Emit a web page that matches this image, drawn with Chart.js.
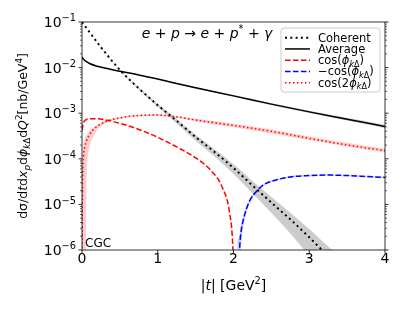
<!DOCTYPE html>
<html>
<head>
<meta charset="utf-8">
<script src="https://cdn.jsdelivr.net/npm/chart.js@4"></script>
<style>
  html, body { margin: 0; padding: 0; background: #fff; }
  canvas { display: block; }
</style>
</head>
<body>
<canvas id="chart" width="415" height="311"></canvas>
<script>
// ===== DATA =====
const tAvg = [0, 0.02, 0.05, 0.1, 0.2, 0.3, 0.5, 0.75, 1.0, 1.5, 2.0, 2.5, 3.0, 3.5, 4.0];
const avg = [1.7e-2, 1.52e-2, 1.38e-2, 1.23e-2, 1.07e-2, 9.8e-3, 8.3e-3, 6.9e-3, 5.6e-3, 3.6e-3, 2.4e-3, 1.58e-3, 1.07e-3, 7.4e-4, 5.1e-4];
const avgLo = [1.7e-2, 1.52e-2, 1.38e-2, 1.22e-2, 1.06e-2, 9.7e-3, 8.2e-3, 6.8e-3, 5.5e-3, 3.5e-3, 2.3e-3, 1.5e-3, 1.01e-3, 6.9e-4, 4.7e-4];
const avgHi = [1.7e-2, 1.52e-2, 1.38e-2, 1.24e-2, 1.08e-2, 9.9e-3, 8.4e-3, 7.0e-3, 5.7e-3, 3.7e-3, 2.5e-3, 1.66e-3, 1.13e-3, 7.9e-4, 5.5e-4];

const tCoh = [0, 0.25, 0.5, 0.75, 1.0, 1.25, 1.5, 1.75, 2.0, 2.25, 2.5, 2.75, 3.0, 3.25, 3.5];
const coh = [1.0e-1, 2.8e-2, 8.9e-3, 3.5e-3, 1.5e-3, 6.8e-4, 3.0e-4, 1.41e-4, 6.3e-5, 2.6e-5, 1.1e-5, 4.7e-6, 1.9e-6, 7.4e-7, 3.2e-7];
const cohHi = [1.0e-1, 2.83e-2, 9.1e-3, 3.66e-3, 1.61e-3, 7.45e-4, 3.37e-4, 1.62e-4, 7.6e-5, 3.27e-5, 1.45e-5, 6.6e-6, 2.88e-6, 1.2e-6, 5.56e-7];
const cohLo = [1.0e-1, 2.77e-2, 8.6e-3, 3.27e-3, 1.37e-3, 5.92e-4, 2.5e-4, 1.12e-4, 4.67e-5, 1.76e-5, 6.5e-6, 2.3e-6, 7.2e-7, 2.2e-7, 7.7e-8];

const tCos1 = [0.003, 0.01, 0.02, 0.035, 0.07, 0.12, 0.2, 0.3, 0.5, 0.75, 1.0, 1.25, 1.5, 1.7, 1.85, 1.95, 1.99, 2.02];
const cos1 = [4.2e-4, 5.2e-4, 6.2e-4, 6.8e-4, 7.4e-4, 7.6e-4, 7.6e-4, 7.2e-4, 6.0e-4, 4.4e-4, 2.95e-4, 1.82e-4, 1.05e-4, 5.6e-5, 2.4e-5, 6.3e-6, 1.26e-6, 3e-8];

const tNeg = [2.05, 2.08, 2.1, 2.13, 2.17, 2.22, 2.3, 2.4, 2.5, 2.75, 3.0, 3.25, 3.5, 3.75, 4.0];
const negCos1 = [3e-8, 1.0e-6, 2.5e-6, 4.6e-6, 7.9e-6, 1.26e-5, 1.9e-5, 2.7e-5, 3.2e-5, 4.0e-5, 4.3e-5, 4.4e-5, 4.3e-5, 4.1e-5, 3.9e-5];
const negHi = [1.5e-6, 2.2e-6, 3.6e-6, 5.8e-6, 9.3e-6, 1.4e-5, 2.05e-5, 2.85e-5, 3.35e-5, 4.15e-5, 4.45e-5, 4.55e-5, 4.45e-5, 4.25e-5, 4.05e-5];
const negLo = [1e-9, 3e-7, 1.2e-6, 3.4e-6, 6.6e-6, 1.12e-5, 1.75e-5, 2.55e-5, 3.05e-5, 3.85e-5, 4.15e-5, 4.25e-5, 4.15e-5, 3.95e-5, 3.75e-5];

const tCos2 = [0.001, 0.003, 0.006, 0.01, 0.02, 0.04, 0.06, 0.1, 0.17, 0.25, 0.35, 0.5, 0.75, 1.0, 1.25, 1.5, 2.0, 2.5, 3.0, 3.5, 4.0];
const cos2 = [1e-7, 4.0e-6, 1.8e-5, 5.0e-5, 1.12e-4, 1.9e-4, 2.5e-4, 3.4e-4, 4.7e-4, 5.8e-4, 6.9e-4, 7.9e-4, 8.9e-4, 9.1e-4, 8.3e-4, 7.1e-4, 5.4e-4, 4.0e-4, 2.8e-4, 2.0e-4, 1.51e-4];
const cos2Hi = [1e-5, 3.2e-5, 7.1e-5, 1.26e-4, 2.0e-4, 2.8e-4, 3.3e-4, 4.2e-4, 5.2e-4, 6.2e-4, 7.2e-4, 8.3e-4, 9.3e-4, 9.5e-4, 8.7e-4, 7.6e-4, 5.9e-4, 4.4e-4, 3.1e-4, 2.24e-4, 1.66e-4];
const cos2Lo = [1e-9, 1e-9, 1e-9, 1e-9, 1e-9, 1e-8, 2.5e-5, 1.78e-4, 3.5e-4, 5.1e-4, 6.5e-4, 7.6e-4, 8.5e-4, 8.7e-4, 7.9e-4, 6.6e-4, 4.9e-4, 3.6e-4, 2.6e-4, 1.86e-4, 1.38e-4];

const xTicks = [0, 1, 2, 3, 4];
const yExponents = [-1, -2, -3, -4, -5, -6];

// ===== HELPERS =====
const FONT = '"DejaVu Sans"';
const pts = (xs, ys) => xs.map((x, i) => ({ x: x, y: ys[i] }));

function line(data, color, width, dash) {
    return {
        data: data, borderColor: color, borderWidth: width, borderDash: dash,
        fill: false, pointRadius: 0, cubicInterpolationMode: "monotone"
    };
}
function bandEdge(data, fillColor, isUpper) {
    return {
        data: data, borderWidth: 0, borderColor: "rgba(0,0,0,0)", pointRadius: 0,
        backgroundColor: fillColor, fill: isUpper ? "-1" : false,
        cubicInterpolationMode: "monotone"
    };
}

// parts: [text, kind]; kind: "" normal, "i" italic, "b" subscript, "bi" italic subscript, "p" superscript
function drawRich(ctx, parts, x, y, size, align) {
    const pieces = parts.map(([s, k]) => {
        const small = k.includes("b") || k.includes("p");
        const fs = small ? size * 0.7 : size;
        const font = (k.includes("i") ? "italic " : "") + fs + "px " + FONT;
        ctx.font = font;
        const dy = k.includes("b") ? size * 0.22 : (k.includes("p") ? -size * 0.42 : 0);
        return { s: s, font: font, w: ctx.measureText(s).width, dy: dy };
    });
    const total = pieces.reduce((a, p) => a + p.w, 0);
    let cx = align === "center" ? x - total / 2 : (align === "right" ? x - total : x);
    ctx.textAlign = "left";
    ctx.textBaseline = "alphabetic";
    pieces.forEach(p => {
        ctx.font = p.font;
        ctx.fillText(p.s, cx, y + p.dy);
        cx += p.w;
    });
    return total;
}

// ===== AXES, LABELS AND LEGEND =====
const decor = {
    id: "decor",
    afterDraw(chart) {
        const ctx = chart.ctx;
        const area = chart.chartArea;
        const xs = chart.scales.x, ys = chart.scales.y;
        ctx.save();
        ctx.fillStyle = "#000";
        ctx.strokeStyle = "#000";

        // frame
        ctx.lineWidth = 0.8;
        ctx.strokeRect(area.left, area.top, area.right - area.left, area.bottom - area.top);

        // x ticks
        xTicks.forEach(v => {
            const px = xs.getPixelForValue(v);
            ctx.beginPath();
            ctx.moveTo(px, area.bottom);
            ctx.lineTo(px, area.bottom + 3.5);
            ctx.stroke();
            ctx.font = "14px " + FONT;
            ctx.textAlign = "center";
            ctx.textBaseline = "top";
            ctx.fillText(String(v), px, 252);
        });

        // y ticks (log), both sides
        yExponents.forEach(e => {
            const py = ys.getPixelForValue(Math.pow(10, e));
            ctx.lineWidth = 0.8;
            ctx.beginPath();
            ctx.moveTo(area.left - 3.5, py); ctx.lineTo(area.left, py);
            ctx.moveTo(area.right, py); ctx.lineTo(area.right + 3.5, py);
            ctx.stroke();
            drawRich(ctx, [["10", ""], ["\u2212" + Math.abs(e), "p"]], area.left - 6, py + 5, 14, "right");
            if (e > -6) {
                ctx.lineWidth = 0.6;
                for (let k = 2; k <= 9; k++) {
                    const my = ys.getPixelForValue(k * Math.pow(10, e - 1));
                    ctx.beginPath();
                    ctx.moveTo(area.left - 2, my); ctx.lineTo(area.left, my);
                    ctx.moveTo(area.right, my); ctx.lineTo(area.right + 2, my);
                    ctx.stroke();
                }
            }
        });

        // x label
        drawRich(ctx, [["|", ""], ["t", "i"], ["| [GeV", ""], ["2", "p"], ["]", ""]],
            (area.left + area.right) / 2, 290, 14, "center");

        // y label (rotated)
        ctx.save();
        ctx.translate(27, (area.top + area.bottom) / 2);
        ctx.rotate(-Math.PI / 2);
        drawRich(ctx, [
            ["d\u03c3/d", ""], ["t", "i"], ["d", ""], ["x", "i"], ["p", "bi"],
            ["d", ""], ["\u03d5", "i"], ["k", "bi"], ["\u0394", "b"],
            ["d", ""], ["Q", "i"], ["2", "p"], ["[nb/GeV", ""], ["4", "p"], ["]", ""]
        ], 0, 0, 12.5, "center");
        ctx.restore();

        // process annotation
        drawRich(ctx, [
            ["e", "i"], [" + ", ""], ["p", "i"], [" \u2192 ", ""], ["e", "i"], [" + ", ""],
            ["p", "i"], ["*", "p"], [" + ", ""], ["\u03b3", "i"]
        ], 207, 38, 14, "center");

        // CGC tag
        ctx.font = "12px " + FONT;
        ctx.textAlign = "left";
        ctx.textBaseline = "alphabetic";
        ctx.fillText("CGC", 85, 247);

        // legend
        const lx = 281, ly = 28, lw = 99, lh = 64;
        ctx.fillStyle = "rgba(255,255,255,0.8)";
        ctx.strokeStyle = "#cccccc";
        ctx.lineWidth = 1;
        ctx.beginPath();
        ctx.roundRect(lx, ly, lw, lh, 3);
        ctx.fill();
        ctx.stroke();
        const entries = [
            { c: "#000000", w: 2, d: [2, 3.3], label: [["Coherent", ""]] },
            { c: "#000000", w: 1.5, d: [], label: [["Average", ""]] },
            { c: "#ff0000", w: 1.5, d: [5.55, 2.4], label: [["cos(", ""], ["\u03d5", "i"], ["k", "bi"], ["\u0394", "b"], [")", ""]] },
            { c: "#0000ff", w: 1.5, d: [5.55, 2.4], label: [["\u2212cos(", ""], ["\u03d5", "i"], ["k", "bi"], ["\u0394", "b"], [")", ""]] },
            { c: "#ff0000", w: 1.5, d: [1.5, 2.475], label: [["cos(2", ""], ["\u03d5", "i"], ["k", "bi"], ["\u0394", "b"], [")", ""]] }
        ];
        entries.forEach((en, i) => {
            const cy = 37.7 + i * 11.25;
            ctx.strokeStyle = en.c;
            ctx.lineWidth = en.w;
            ctx.setLineDash(en.d);
            ctx.beginPath();
            ctx.moveTo(285, cy); ctx.lineTo(310, cy);
            ctx.stroke();
            ctx.setLineDash([]);
            ctx.fillStyle = "#000";
            drawRich(ctx, en.label, 318, cy + 4, 11.5, "left");
        });
        ctx.restore();
    }
};

// ===== CHART =====
const grey = "rgba(0,0,0,0.2)";
const pink = "rgba(255,0,0,0.2)";
const lightBlue = "rgba(0,0,255,0.2)";

const datasets = [
    line(pts(tCoh, coh), "#000000", 2, [2, 3.3]),
    line(pts(tAvg, avg), "#000000", 1.5, []),
    line(pts(tCos1, cos1), "#ff0000", 1.5, [5.55, 2.4]),
    line(pts(tNeg, negCos1), "#0000ff", 1.5, [5.55, 2.4]),
    line(pts(tCos2, cos2), "#ff0000", 1.5, [1.5, 2.475]),
    bandEdge(pts(tCoh, cohLo), grey, false),
    bandEdge(pts(tCoh, cohHi), grey, true),
    bandEdge(pts(tAvg, avgLo), grey, false),
    bandEdge(pts(tAvg, avgHi), grey, true),
    bandEdge(pts(tNeg, negLo), lightBlue, false),
    bandEdge(pts(tNeg, negHi), lightBlue, true),
    bandEdge(pts(tCos2, cos2Lo), pink, false),
    bandEdge(pts(tCos2, cos2Hi), pink, true)
];

new Chart(document.getElementById("chart"), {
    type: "line",
    data: { datasets: datasets },
    options: {
        responsive: false,
        animation: false,
        devicePixelRatio: 1,
        layout: { padding: { left: 82, right: 30, top: 22, bottom: 61 } },
        plugins: { legend: { display: false }, tooltip: { enabled: false } },
        scales: {
            x: { type: "linear", min: 0, max: 4, display: false },
            y: { type: "logarithmic", min: 1e-6, max: 1e-1, display: false }
        }
    },
    plugins: [decor]
});
</script>
</body>
</html>
